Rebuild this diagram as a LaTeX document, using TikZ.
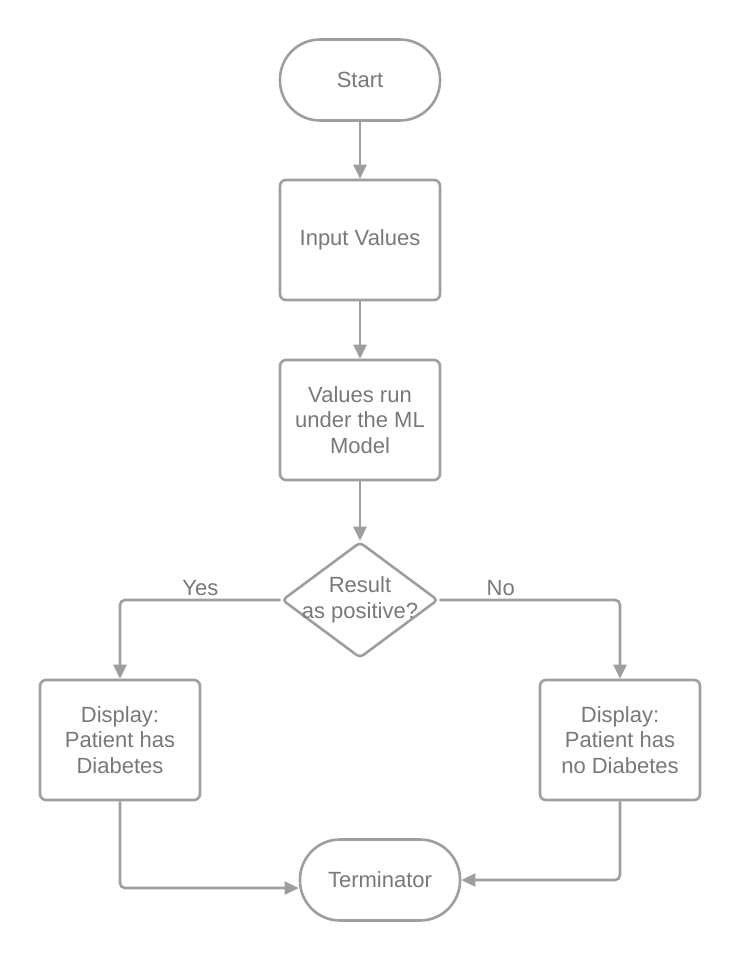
\documentclass[tikz,border=0pt]{standalone}
\usepackage{fontspec}
\setmainfont{Liberation Sans}
\usetikzlibrary{shapes.geometric,arrows.meta}
\definecolor{edgegray}{HTML}{9E9E9E}
\definecolor{textgray}{HTML}{787878}

\begin{document}
\begin{tikzpicture}[x=1pt,y=-1pt,
    every node/.style={text=textgray,font=\fontsize{22}{25.5}\selectfont,align=center},
    terminal/.style={draw=edgegray,line width=2.6pt,rounded corners=40pt,minimum width=160pt,minimum height=81pt},
    process/.style={draw=edgegray,line width=2.6pt,rounded corners=6pt,minimum width=160pt,minimum height=120pt,inner sep=0pt},
    decision/.style={draw=edgegray,line width=2.6pt,diamond,rounded corners=4pt,minimum width=156pt,minimum height=116pt,inner sep=0pt},
    flow/.style={draw=edgegray,line width=2.6pt,rounded corners=5pt,-{Triangle[length=14pt,width=13pt]}}]
  \useasboundingbox (0,0) rectangle (740,960);

  \node[terminal] (start) at (360,80) {Start};
  \node[process] (input) at (360,240) {Input Values};
  \node[process] (model) at (360,420) {Values run\\under the ML\\Model};
  \node[decision] (check) at (360,600) {};
  \node (checktext) at (360,600) {Result\\as positive?};
  \node[process] (yesbox) at (120,740) {Display:\\Patient has\\Diabetes};
  \node[process] (nobox) at (620,740) {Display:\\Patient has\\no Diabetes};
  \node[terminal] (term) at (380,880) {Terminator};

  \draw[flow] (start) -- (input);
  \draw[flow] (input) -- (model);
  \draw[flow] (model) -- (check);
  \draw[flow] (check.west) -| node[pos=0.25,above] {Yes} (yesbox.north);
  \draw[flow] (check.east) -| node[pos=0.17,above] {No} (nobox.north);
  \draw[flow] (yesbox.south) |- ([yshift=-8pt]term.west);
  \draw[flow] (nobox.south) |- (term.east);
\end{tikzpicture}
\end{document}
